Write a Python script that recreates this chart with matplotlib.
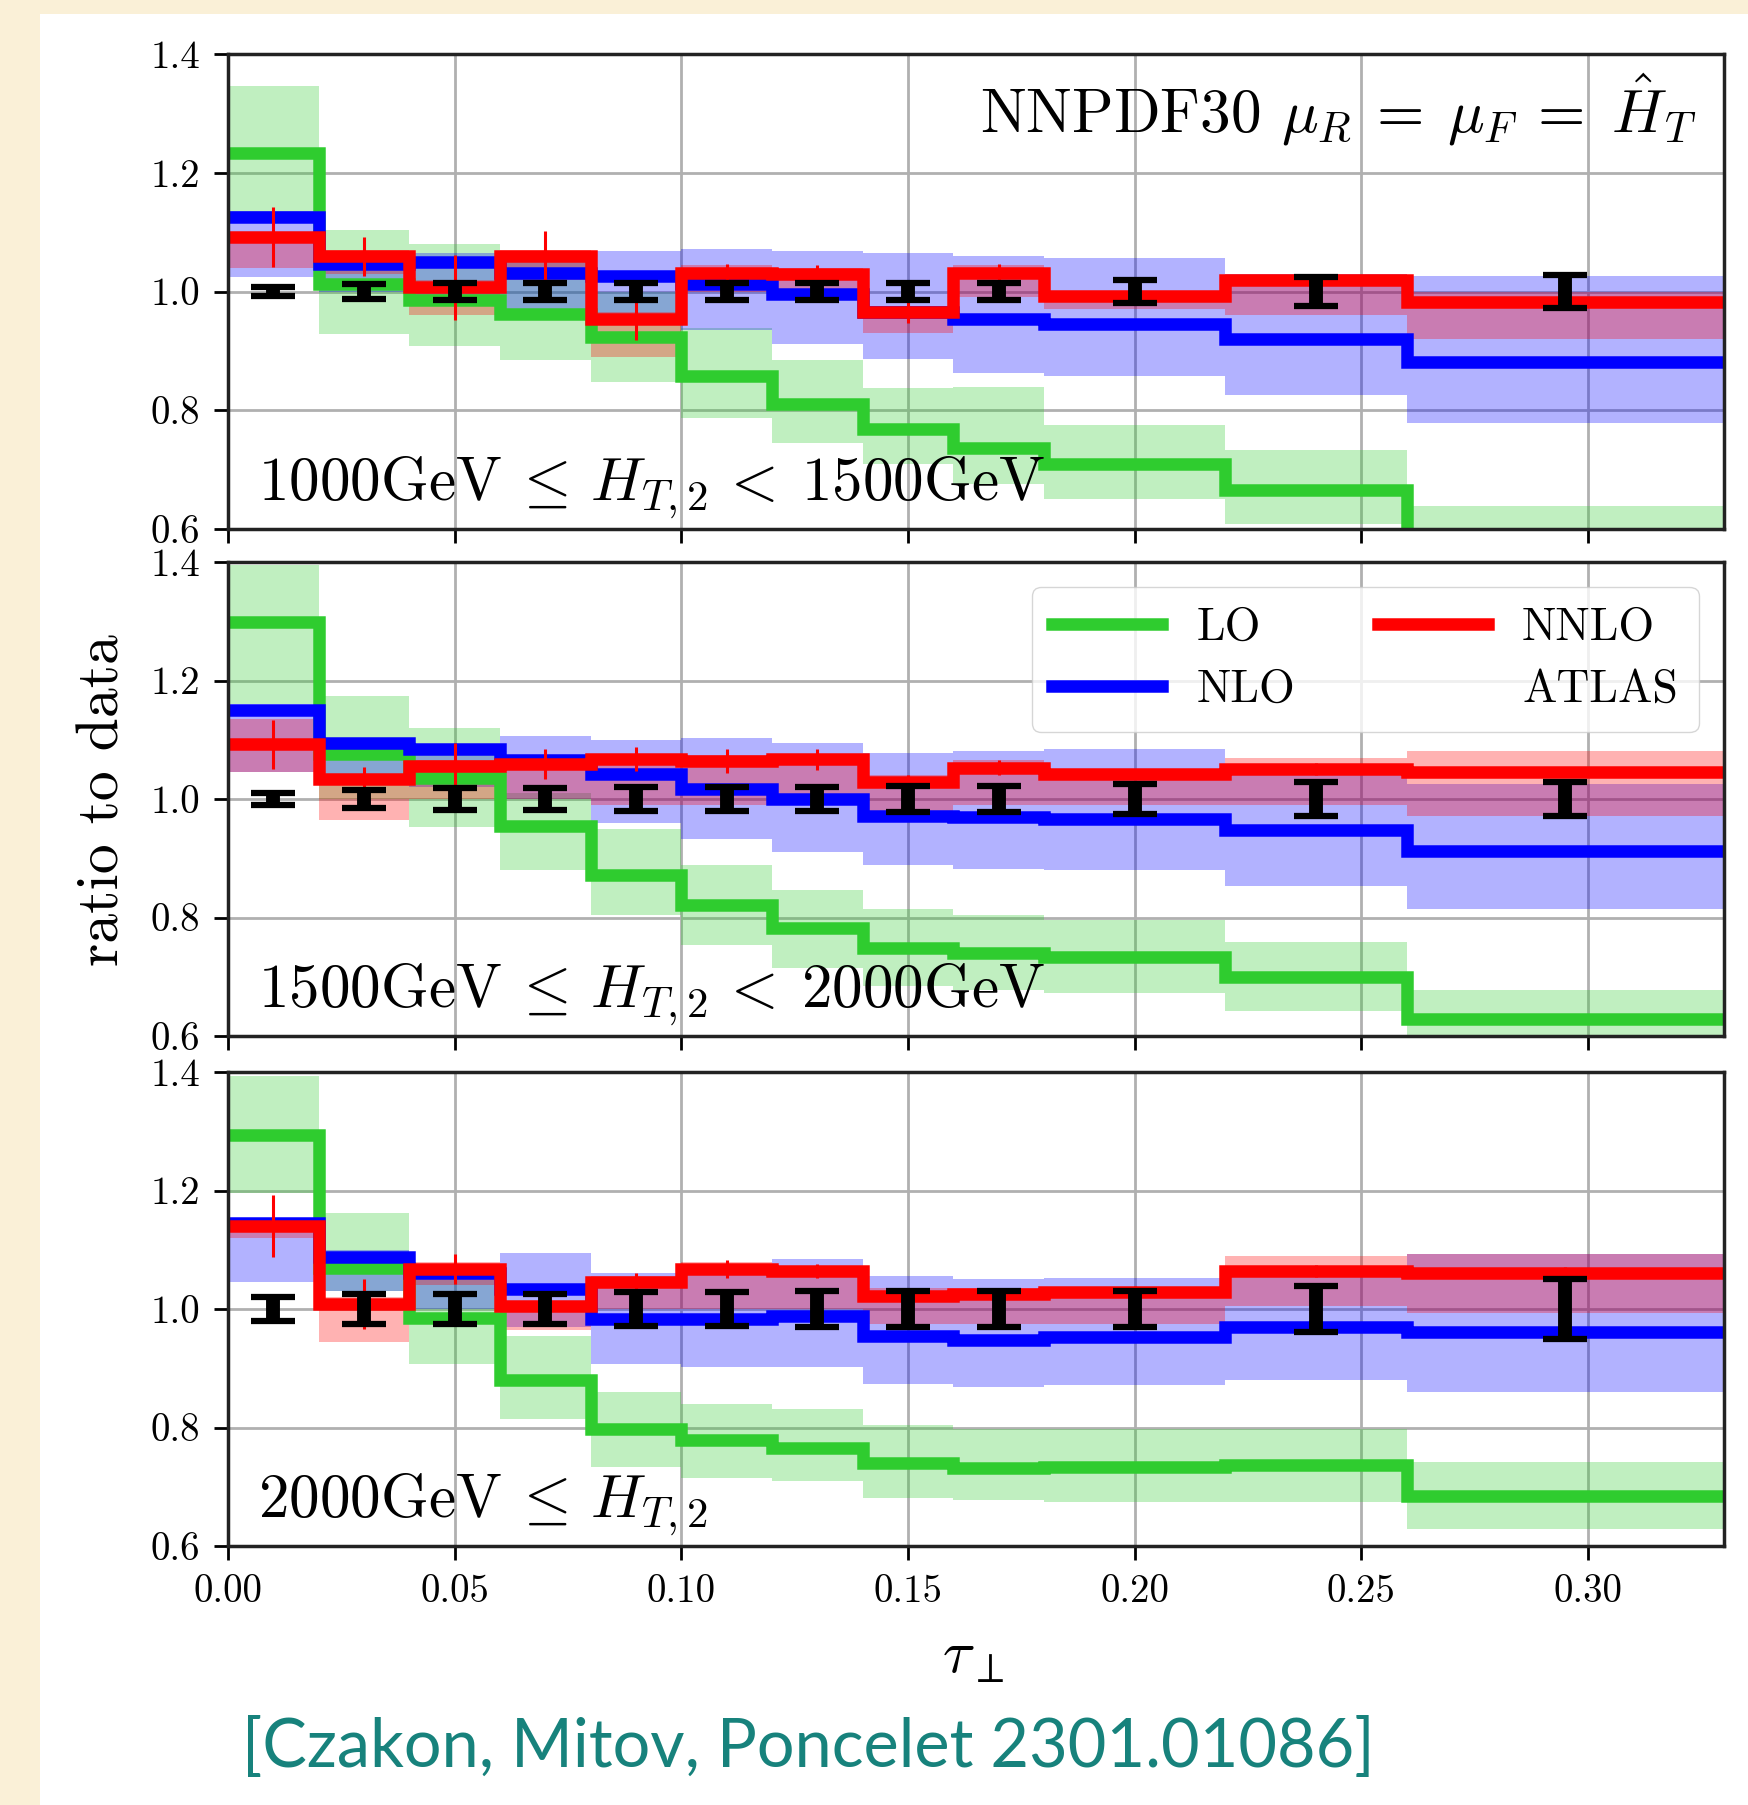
"""
Ratio to ATLAS data of LO / NLO / NNLO predictions in three H_T,2 slices
"""
import matplotlib.pyplot as plt
from matplotlib.lines import Line2D
from matplotlib.patches import Rectangle

plt.rcParams["font.family"] = "serif"
plt.rcParams["font.serif"] = ["cmr10"]
plt.rcParams["mathtext.fontset"] = "cm"
plt.rcParams["axes.formatter.use_mathtext"] = True

# Binning in tau_perp
edges = [0.0, 0.02, 0.04, 0.06, 0.08, 0.10, 0.12, 0.14, 0.16, 0.18, 0.22, 0.26, 0.33]
centers = [0.01, 0.03, 0.05, 0.07, 0.09, 0.11, 0.13, 0.15, 0.17, 0.20, 0.24, 0.295]

slice_labels = [
    r"$\mathrm{1000GeV}\:\leq\,H_{T,2}\,<\:\mathrm{1500GeV}$",
    r"$\mathrm{1500GeV}\:\leq\,H_{T,2}\,<\:\mathrm{2000GeV}$",
    r"$\mathrm{2000GeV}\:\leq\,H_{T,2}$",
]

# 1000 - 1500 GeV
lo_1 = [1.234, 1.013, 0.986, 0.962, 0.923, 0.857, 0.811, 0.769, 0.736, 0.709, 0.666, 0.55]
lo_lo_1 = [1.12, 0.929, 0.908, 0.884, 0.847, 0.787, 0.745, 0.71, 0.675, 0.651, 0.609, 0.50]
lo_hi_1 = [1.346, 1.104, 1.080, 1.068, 1.00, 0.938, 0.884, 0.838, 0.84, 0.775, 0.733, 0.639]
nlo_1 = [1.125, 1.047, 1.05, 1.032, 1.026, 1.013, 0.995, 0.965, 0.953, 0.946, 0.92, 0.881]
nlo_lo_1 = [1.025, 1.00, 0.99, 0.97, 0.96, 0.935, 0.911, 0.887, 0.863, 0.857, 0.826, 0.778]
nlo_hi_1 = [1.135, 1.06, 1.065, 1.065, 1.068, 1.071, 1.068, 1.065, 1.059, 1.056, 1.03, 1.026]
nnlo_1 = [1.092, 1.059, 1.007, 1.059, 0.953, 1.032, 1.029, 0.965, 1.032, 0.992, 1.019, 0.983]
nnlo_lo_1 = [1.04, 1.03, 0.96, 1.02, 0.89, 1.00, 1.00, 0.93, 0.99, 0.97, 0.96, 0.92]
nnlo_hi_1 = [1.10, 1.07, 1.02, 1.07, 0.965, 1.045, 1.04, 0.975, 1.045, 1.0, 1.03, 1.0]
nnlo_err_1 = [0.05, 0.033, 0.055, 0.043, 0.035, 0.015, 0.015, 0.018, 0.015, 0.008, 0.01, 0.01]
atlas_err_1 = [0.008, 0.012, 0.015, 0.015, 0.015, 0.015, 0.015, 0.015, 0.015, 0.02, 0.025, 0.027]

# 1500 - 2000 GeV
lo_2 = [1.299, 1.076, 1.036, 0.955, 0.871, 0.821, 0.782, 0.748, 0.740, 0.733, 0.70, 0.628]
lo_lo_2 = [1.16, 1.0, 0.952, 0.88, 0.804, 0.754, 0.714, 0.684, 0.678, 0.673, 0.642, 0.59]
lo_hi_2 = [1.395, 1.173, 1.12, 1.01, 0.95, 0.888, 0.846, 0.815, 0.804, 0.796, 0.759, 0.678]
nlo_2 = [1.151, 1.095, 1.084, 1.065, 1.042, 1.017, 1.0, 0.972, 0.969, 0.966, 0.947, 0.913]
nlo_lo_2 = [1.045, 1.04, 1.02, 1.0, 0.96, 0.933, 0.91, 0.888, 0.882, 0.88, 0.854, 0.815]
nlo_hi_2 = [1.155, 1.10, 1.09, 1.106, 1.10, 1.103, 1.095, 1.078, 1.081, 1.084, 1.05, 1.025]
nnlo_2 = [1.092, 1.033, 1.056, 1.059, 1.067, 1.064, 1.067, 1.028, 1.053, 1.042, 1.05, 1.045]
nnlo_lo_2 = [1.045, 0.965, 1.0, 1.0, 0.99, 0.99, 0.99, 0.98, 0.99, 0.99, 0.99, 0.972]
nnlo_hi_2 = [1.135, 1.04, 1.065, 1.07, 1.075, 1.075, 1.075, 1.04, 1.065, 1.05, 1.07, 1.081]
nnlo_err_2 = [0.042, 0.021, 0.038, 0.026, 0.02, 0.02, 0.018, 0.012, 0.012, 0.008, 0.01, 0.008]
atlas_err_2 = [0.01, 0.015, 0.018, 0.018, 0.02, 0.02, 0.02, 0.022, 0.022, 0.025, 0.028, 0.028]

# >= 2000 GeV
lo_3 = [1.294, 1.07, 0.985, 0.88, 0.798, 0.779, 0.765, 0.74, 0.731, 0.734, 0.737, 0.684]
lo_lo_3 = [1.196, 1.03, 0.908, 0.815, 0.734, 0.715, 0.709, 0.681, 0.678, 0.675, 0.675, 0.628]
lo_hi_3 = [1.394, 1.162, 1.06, 0.955, 0.86, 0.84, 0.832, 0.804, 0.798, 0.798, 0.798, 0.742]
nlo_3 = [1.145, 1.087, 1.06, 1.033, 0.983, 0.983, 0.989, 0.955, 0.947, 0.952, 0.969, 0.961]
nlo_lo_3 = [1.045, 1.03, 1.0, 0.97, 0.908, 0.902, 0.902, 0.874, 0.868, 0.871, 0.88, 0.86]
nlo_hi_3 = [1.15, 1.10, 1.07, 1.095, 1.061, 1.061, 1.084, 1.056, 1.05, 1.053, 1.06, 1.092]
nnlo_3 = [1.14, 1.008, 1.067, 1.005, 1.045, 1.067, 1.064, 1.022, 1.025, 1.028, 1.064, 1.061]
nnlo_lo_3 = [1.12, 0.945, 1.04, 0.965, 1.0, 1.0, 1.0, 0.975, 0.975, 0.975, 1.005, 0.994]
nnlo_hi_3 = [1.15, 1.02, 1.08, 1.01, 1.055, 1.08, 1.07, 1.035, 1.035, 1.035, 1.089, 1.092]
nnlo_err_3 = [0.053, 0.042, 0.025, 0.012, 0.015, 0.015, 0.012, 0.01, 0.01, 0.01, 0.01, 0.01]
atlas_err_3 = [0.021, 0.025, 0.025, 0.025, 0.028, 0.028, 0.03, 0.03, 0.03, 0.03, 0.039, 0.05]

panels = [
    (lo_1, lo_lo_1, lo_hi_1, nlo_1, nlo_lo_1, nlo_hi_1, nnlo_1, nnlo_lo_1, nnlo_hi_1, nnlo_err_1, atlas_err_1),
    (lo_2, lo_lo_2, lo_hi_2, nlo_2, nlo_lo_2, nlo_hi_2, nnlo_2, nnlo_lo_2, nnlo_hi_2, nnlo_err_2, atlas_err_2),
    (lo_3, lo_lo_3, lo_hi_3, nlo_3, nlo_lo_3, nlo_hi_3, nnlo_3, nnlo_lo_3, nnlo_hi_3, nnlo_err_3, atlas_err_3),
]

green = "#2fcc2f"
blue = "#0000ff"
red = "#ff0000"

W, H = 1748, 1805
fig = plt.figure(figsize=(W / 100, H / 100), dpi=100)
fig.patch.set_facecolor("#faf0d7")
fig.add_artist(
    Rectangle((40 / W, 0), 1 - 40 / W, 1 - 14 / H, transform=fig.transFigure,
              facecolor="white", edgecolor="none", zorder=0)
)

# axes boxes in pixels (top, bottom)
boxes = [(54, 529), (562, 1036), (1072, 1546)]
left, right = 228, 1724

axes = []
for i, (top, bottom) in enumerate(boxes):
    ax = fig.add_axes([left / W, 1 - bottom / H, (right - left) / W, (bottom - top) / H])
    axes.append(ax)
    (lo, lo_lo, lo_hi, nlo, nlo_lo, nlo_hi, nnlo, nnlo_lo, nnlo_hi, nnlo_err, atlas_err) = panels[i]

    ax.grid(True, color="#b0b0b0", lw=2)
    ax.set_axisbelow(True)

    # scale bands
    ax.stairs(lo_hi, edges, baseline=lo_lo, fill=True, color=green, alpha=0.3, lw=0)
    ax.stairs(nlo_hi, edges, baseline=nlo_lo, fill=True, color=blue, alpha=0.3, lw=0)
    ax.stairs(nnlo_hi, edges, baseline=nnlo_lo, fill=True, color=red, alpha=0.3, lw=0)

    # central values
    ax.stairs(lo, edges, baseline=None, color=green, lw=9)
    ax.stairs(nlo, edges, baseline=None, color=blue, lw=9)
    ax.stairs(nnlo, edges, baseline=None, color=red, lw=9)

    ax.errorbar(centers, nnlo, yerr=nnlo_err, fmt="none", ecolor=red, elinewidth=2.2)
    ax.errorbar(centers, [1.0] * len(centers), yerr=atlas_err, fmt="none",
                ecolor="black", elinewidth=10, capsize=16, capthick=4.5, zorder=5)

    ax.set_xlim(0, 0.33)
    ax.set_ylim(0.6, 1.4)
    ax.set_xticks([0.0, 0.05, 0.10, 0.15, 0.20, 0.25, 0.30])
    ax.set_xticklabels(["0.00", "0.05", "0.10", "0.15", "0.20", "0.25", "0.30"])
    ax.set_yticks([0.6, 0.8, 1.0, 1.2, 1.4])
    ax.set_yticklabels(["0.6", "0.8", "1.0", "1.2", "1.4"])
    ax.tick_params(direction="out", length=10, width=2, labelsize=28, pad=10,
                   top=False, right=False, labelbottom=(i == 2))
    for sp in ax.spines.values():
        sp.set_linewidth(2.5)
        sp.set_color("#222222")

    ax.text(0.02, 0.06, slice_labels[i], transform=ax.transAxes, fontsize=44,
            va="baseline", ha="left")

axes[0].text(0.982, 0.835, r"NNPDF30 $\mu_R\:=\:\mu_F\:=\;\hat{H}_T$",
             transform=axes[0].transAxes, fontsize=44, ha="right", va="baseline")

handles = [
    Line2D([], [], color=green, lw=9),
    Line2D([], [], color=blue, lw=9),
    Line2D([], [], color=red, lw=9),
    Line2D([], [], color="none", lw=9),
]
axes[1].legend(handles, ["LO", "NLO", "NNLO", "ATLAS"], ncol=2, fontsize=33,
               loc="upper right", bbox_to_anchor=(0.983, 0.948), borderaxespad=0,
               handlelength=2.4, handletextpad=0.75, columnspacing=1.8,
               labelspacing=0.45, borderpad=0.45, framealpha=0.8)

fig.text(104 / W, 1 - 800 / H, "ratio to data", rotation=90, fontsize=43,
         ha="center", va="center")
fig.text(973 / W, 1 - 1658 / H, r"$\tau_\perp$", fontsize=43, ha="center", va="center")
fig.text(808 / W, 1 - 1748 / H, "[Czakon, Mitov, Poncelet 2301.01086]",
         color="#17827c", fontsize=48, family="Lato", ha="center", va="center")

fig.savefig("out.png", dpi=100)
